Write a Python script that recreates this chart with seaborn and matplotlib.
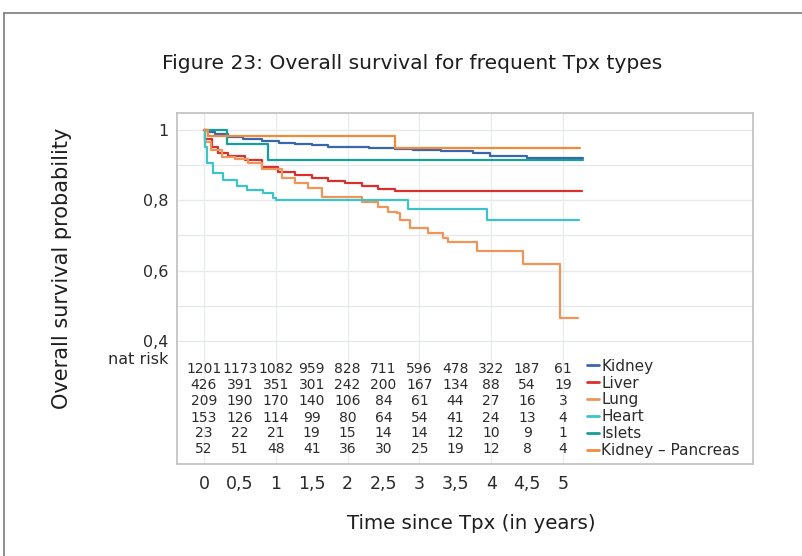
import numpy as np
import pandas as pd
import matplotlib.pyplot as plt
import seaborn as sns
from matplotlib.lines import Line2D

sns.set_style("white")
plt.rcParams["font.family"] = ["DejaVu Sans"]

# ---- survival curves (time in years, probability) ----
kidney_t = [0, 0.05, 0.15, 0.33, 0.55, 0.81, 1.05, 1.27, 1.5, 1.73, 2.0, 2.3, 2.66, 2.91, 3.3, 3.75, 3.98, 4.5, 5.28]
kidney_s = [1, 0.995, 0.988, 0.98, 0.975, 0.969, 0.964, 0.96, 0.956, 0.952, 0.95, 0.948, 0.946, 0.943, 0.94, 0.935, 0.926, 0.92, 0.92]

liver_t = [0, 0.02, 0.11, 0.2, 0.33, 0.57, 0.81, 1.03, 1.27, 1.5, 1.73, 1.97, 2.2, 2.42, 2.66, 5.27]
liver_s = [1, 0.975, 0.952, 0.935, 0.926, 0.915, 0.895, 0.88, 0.872, 0.864, 0.855, 0.85, 0.84, 0.833, 0.825, 0.825]

lung_t = [0, 0.01, 0.1, 0.25, 0.43, 0.61, 0.81, 1.09, 1.27, 1.45, 1.64, 2.2, 2.42, 2.56, 2.69, 2.73,
          2.87, 3.12, 3.33, 3.40, 3.80, 4.44, 4.96, 5.21]
lung_s = [1, 0.966, 0.943, 0.923, 0.918, 0.906, 0.889, 0.864, 0.85, 0.835, 0.808, 0.796, 0.782, 0.767, 0.764, 0.745,
          0.722, 0.708, 0.693, 0.682, 0.657, 0.62, 0.467, 0.467]

heart_t = [0, 0.01, 0.04, 0.13, 0.26, 0.46, 0.6, 0.82, 0.96, 1.0, 2.84, 3.94, 5.22]
heart_s = [1, 0.95, 0.906, 0.877, 0.858, 0.84, 0.83, 0.82, 0.807, 0.80, 0.776, 0.745, 0.745]

islets_t = [0, 0.32, 0.89, 5.28]
islets_s = [1, 0.96, 0.915, 0.915]

kp_t = [0, 0.05, 2.66, 5.24]
kp_s = [1, 0.983, 0.949, 0.949]

types = ["Kidney", "Liver", "Lung", "Heart", "Islets", "Kidney \u2013 Pancreas"]
colors = ["#3b66ad", "#d7302f", "#f0955a", "#3dc4c8", "#159e9a", "#f28a3c"]

# numbers at risk, at t = 0, 0.5, ..., 5
risk_times = [0, 0.5, 1, 1.5, 2, 2.5, 3, 3.5, 4, 4.5, 5]
risk_kidney = [1201, 1173, 1082, 959, 828, 711, 596, 478, 322, 187, 61]
risk_liver = [426, 391, 351, 301, 242, 200, 167, 134, 88, 54, 19]
risk_lung = [209, 190, 170, 140, 106, 84, 61, 44, 27, 16, 3]
risk_heart = [153, 126, 114, 99, 80, 64, 54, 41, 24, 13, 4]
risk_islets = [23, 22, 21, 19, 15, 14, 14, 12, 10, 9, 1]
risk_kp = [52, 51, 48, 41, 36, 30, 25, 19, 12, 8, 4]

curves = [(kidney_t, kidney_s), (liver_t, liver_s), (lung_t, lung_s),
          (heart_t, heart_s), (islets_t, islets_s), (kp_t, kp_s)]
risk_rows = [risk_kidney, risk_liver, risk_lung, risk_heart, risk_islets, risk_kp]

df = pd.concat([pd.DataFrame({"time": t, "surv": s, "type": name})
                for name, (t, s) in zip(types, curves)], ignore_index=True)

fig = plt.figure(figsize=(8.03, 5.56), dpi=100)
ax = fig.add_axes([0.2204, 0.1655, 0.7173, 0.6313])

ax.set_xlim(-0.376, 7.646)
ax.set_ylim(0.051, 1.048)

# grid: only over the curve area
for y in np.arange(0.4, 1.01, 0.1):
    ax.axhline(y, color="#e6e9ec", lw=1.0, zorder=0)
for x in range(0, 6):
    ax.axvline(x, color="#e9ecef", lw=1.0, zorder=0)

sns.lineplot(data=df, x="time", y="surv", hue="type", hue_order=types, palette=colors,
             units="type", estimator=None, sort=False, drawstyle="steps-post",
             lw=1.6, legend=False, ax=ax)

# at-risk table
text_col = "#2b2b2b"
row_y = [0.320, 0.274, 0.229, 0.183, 0.138, 0.093]
for yy, row in zip(row_y, risk_rows):
    for tt, n in zip(risk_times, row):
        ax.text(tt, yy, str(n), ha="center", va="center", fontsize=10, color=text_col)

handles = [Line2D([0], [0], color=c, lw=2) for c in colors]
ax.legend(handles, types, loc="upper left", bbox_to_anchor=(0.712, 0.300), frameon=False,
          fontsize=11, handlelength=0.8, handletextpad=0.12, labelspacing=0.12,
          borderpad=0, borderaxespad=0, labelcolor=text_col)

ax.set_yticks([1, 0.8, 0.6, 0.4, 0.352])
ax.set_yticklabels(["1", "0,8", "0,6", "0,4", "nat risk"], fontsize=11.5, color=text_col)
ax.set_xticks(risk_times)
ax.set_xticklabels([str(t).replace(".", ",").replace(",0", "") if t != 0 else "0" for t in risk_times],
                   fontsize=12.5, color=text_col)
ax.tick_params(axis="both", length=3, width=0.8, color="#888888", direction="out")
ax.tick_params(axis="x", pad=5)
ax.tick_params(axis="y", pad=3)
ax.set_xlabel("")
ax.set_ylabel("")

for sp in ax.spines.values():
    sp.set_color("#c4c4c4")
    sp.set_linewidth(1.3)

fig.text(0.513, 0.885, "Figure 23: Overall survival for frequent Tpx types", ha="center", va="center",
         fontsize=14.6, color="#1e1e1e")
fig.text(0.077, 0.518, "Overall survival probability", rotation=90, ha="center", va="center",
         fontsize=15, color="#1e1e1e")
fig.text(0.587, 0.059, "Time since Tpx (in years)", ha="center", va="center",
         fontsize=14.2, color="#1e1e1e")

# outer frame lines (top and left)
fig.add_artist(Line2D([0.005, 1.0], [0.977, 0.977], color="#7a7a7a", lw=1.2, transform=fig.transFigure))
fig.add_artist(Line2D([0.005, 0.005], [0.0, 0.977], color="#7a7a7a", lw=1.2, transform=fig.transFigure))

fig.savefig("out.png", dpi=100)
